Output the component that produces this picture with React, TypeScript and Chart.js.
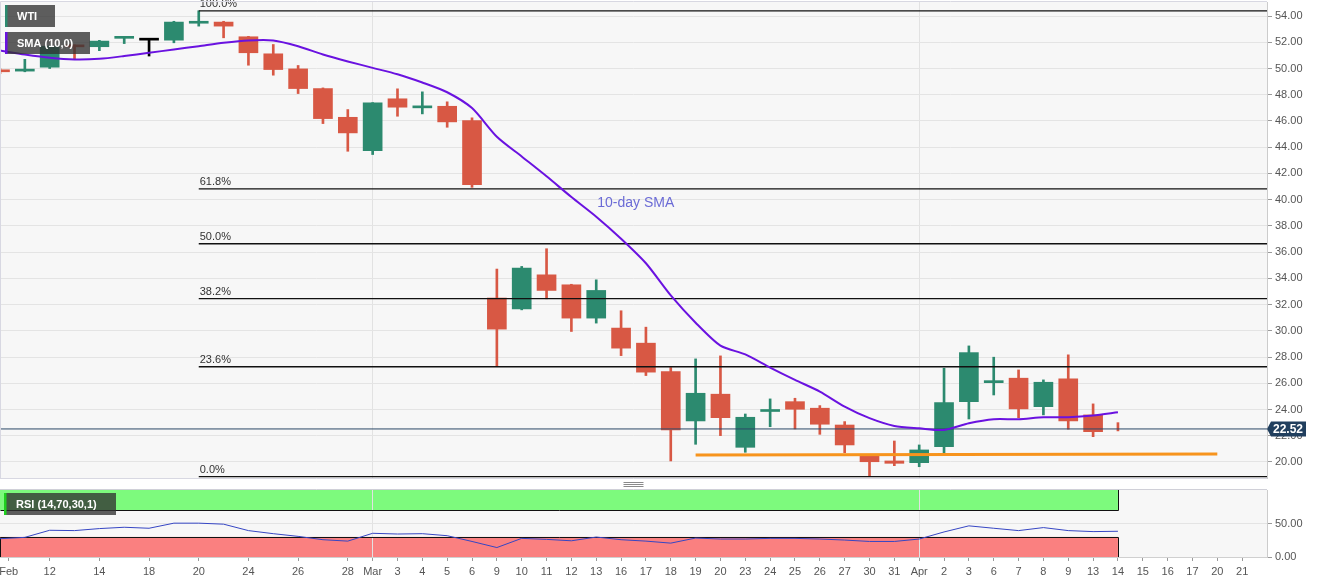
import React, { useEffect, useRef } from "react";
import { Chart, registerables } from "chart.js";

Chart.register(...registerables);

const FONT = "'Liberation Sans', Arial, Helvetica, sans-serif";

// Trading days shown on the axis (last five are future slots)
const tradingDays = [
  "Feb 10", "Feb 11", "Feb 12", "Feb 13", "Feb 14", "Feb 17", "Feb 18", "Feb 19", "Feb 20", "Feb 21",
  "Feb 24", "Feb 25", "Feb 26", "Feb 27", "Feb 28", "Mar 2", "Mar 3", "Mar 4", "Mar 5", "Mar 6",
  "Mar 9", "Mar 10", "Mar 11", "Mar 12", "Mar 13", "Mar 16", "Mar 17", "Mar 18", "Mar 19", "Mar 20",
  "Mar 23", "Mar 24", "Mar 25", "Mar 26", "Mar 27", "Mar 30", "Mar 31", "Apr 1", "Apr 2", "Apr 3",
  "Apr 6", "Apr 7", "Apr 8", "Apr 9", "Apr 13", "Apr 14", "Apr 15", "Apr 16", "Apr 17", "Apr 20", "Apr 21",
];

// Tick labels under the axis ("" = no label)
const axisLabels = [
  "Feb", "", "12", "", "14", "", "18", "", "20", "",
  "24", "", "26", "", "28", "Mar", "3", "4", "5", "6",
  "9", "10", "11", "12", "13", "16", "17", "18", "19", "20",
  "23", "24", "25", "26", "27", "30", "31", "Apr", "2", "3",
  "6", "7", "8", "9", "13", "14", "15", "16", "17", "20", "21",
];

const monthStarts = [15, 37];

// WTI daily OHLC (Feb 10 .. Apr 14)
const opens: (number | null)[] = [
  49.85, 49.8, 50.1, 51.75, 51.66, 52.3, 52.16, 52.16, 53.45, 53.54,
  52.42, 51.12, 49.97, 48.47, 46.28, 43.74, 47.69, 47.0, 47.12, 46.03,
  32.5, 31.68, 34.27, 33.51, 30.97, 30.21, 29.06, 26.89, 23.13, 25.17,
  21.12, 23.85, 24.6, 24.1, 22.82, 20.48, 20.08, 19.95, 21.17, 24.6,
  26.05, 26.39, 24.22, 26.34, 23.59, null,
];
const highs = [
  50.0, 50.7, 51.75, 51.8, 52.15, 52.4, 52.25, 53.6, 54.4, 53.6,
  52.45, 51.83, 50.23, 48.52, 46.87, 47.4, 48.45, 48.22, 47.46, 46.24,
  34.71, 34.91, 36.26, 33.55, 33.89, 31.53, 30.28, 27.2, 27.86, 28.09,
  23.66, 24.81, 24.86, 24.3, 23.08, 20.55, 21.6, 21.3, 27.15, 28.85,
  27.99, 27.02, 26.26, 28.17, 24.43, 23.0,
];
const lows = [
  49.6, 49.75, 50.0, 50.7, 51.36, 51.9, 50.95, 51.96, 53.23, 52.34,
  50.25, 49.49, 48.09, 45.8, 43.69, 43.44, 46.36, 46.54, 45.52, 40.94,
  27.27, 31.6, 32.44, 29.95, 30.59, 28.11, 26.59, 20.08, 21.35, 22.01,
  20.74, 22.69, 22.52, 22.11, 20.71, 18.93, 19.72, 19.64, 20.66, 23.28,
  25.11, 23.38, 23.59, 22.5, 21.93, 22.37,
];
const closes = [
  49.75, 49.9, 51.7, 51.65, 52.09, 52.36, 52.16, 53.54, 53.53, 53.23,
  51.2, 49.92, 48.47, 46.18, 45.09, 47.38, 47.05, 47.08, 45.93, 41.15,
  30.13, 34.79, 33.08, 30.97, 33.08, 28.68, 26.85, 22.44, 25.24, 23.38,
  23.41, 23.93, 24.02, 22.88, 21.3, 20.02, 19.9, 20.92, 24.53, 28.34,
  26.1, 24.05, 26.08, 23.13, 22.31, 22.52,
];

// 10-day simple moving average
const sma10 = [
  51.37, 51.07, 50.82, 50.69, 50.74, 50.95, 51.2, 51.45, 51.7, 51.96,
  52.14, 52.14, 51.7, 51.07, 50.54, 50.05, 49.56, 48.93, 48.19, 46.98,
  44.8, 43.29, 41.78, 40.2, 38.7, 37.02, 35.15, 32.7, 30.62, 28.87,
  28.2, 27.2, 26.26, 25.37, 24.22, 23.34, 22.75, 22.57, 22.44, 22.95,
  23.26, 23.26, 23.41, 23.41, 23.54, 23.79,
];

// RSI (14)
const rsi14 = [
  27.3, 29.3, 39.9, 39.4, 42.4, 44.4, 42.9, 50.5, 50.5, 49.0,
  39.4, 34.8, 30.8, 25.8, 23.7, 35.4, 34.3, 34.8, 31.8, 23.2,
  14.1, 27.8, 26.3, 24.2, 29.8, 25.8, 23.7, 20.7, 28.3, 26.8,
  26.8, 27.8, 27.8, 26.8, 25.3, 23.2, 23.2, 26.8, 37.4, 46.5,
  42.9, 39.4, 43.9, 39.4, 37.9, 38.4,
];
const rsiOverbought = 70;
const rsiOversold = 30;

// Fibonacci retracement levels (Feb 20 high -> Mar 30 low)
const fibNames = ["100.0%", "61.8%", "50.0%", "38.2%", "23.6%", "0.0%"];
const fibPrices = [54.4, 40.83, 36.64, 32.45, 27.26, 18.88];
const fibStart = 8;

const lastPrice = 22.52;
const supportX = [28, 49];
const supportY = [20.53, 20.61];

const GREEN = "#2c8a6f";
const RED = "#d85844";
const PURPLE = "#6a12e0";

const X_MAX = 51;

function candleColor(i: number) {
  const o = opens[i];
  if (o == null) return RED;
  if (closes[i] > o) return GREEN;
  if (closes[i] < o) return RED;
  return "#000000";
}

function box(ctx: CanvasRenderingContext2D, x: number, y: number, w: number, h: number, bar: string, text: string) {
  ctx.save();
  ctx.fillStyle = "rgba(50,50,50,0.78)";
  ctx.fillRect(x, y, w, h);
  ctx.fillStyle = bar;
  ctx.fillRect(x, y, 2.5, h);
  ctx.fillStyle = "#ffffff";
  ctx.font = `bold 11px ${FONT}`;
  ctx.textBaseline = "middle";
  ctx.textAlign = "left";
  ctx.fillText(text, x + 12, y + h / 2 + 0.5);
  ctx.restore();
}

export default function App() {
  const mainRef = useRef<HTMLCanvasElement>(null);
  const rsiRef = useRef<HTMLCanvasElement>(null);

  useEffect(() => {
    if (!mainRef.current || !rsiRef.current) return;
    const n = closes.length;
    const idx = Array.from({ length: n }, (_, i) => i);

    const mainPlugin = {
      id: "mainDeco",
      beforeDraw(chart: any) {
        const { ctx, chartArea: a } = chart;
        ctx.save();
        ctx.fillStyle = "#ffffff";
        ctx.fillRect(0, 0, chart.width, chart.height);
        ctx.fillStyle = "#f7f7f7";
        ctx.fillRect(a.left, a.top, a.right - a.left, a.bottom - a.top);
        ctx.restore();
      },
      afterDatasetsDraw(chart: any) {
        const { ctx } = chart;
        const xs = chart.scales.x;
        const ys = chart.scales.y;
        ctx.save();
        ctx.font = `11px ${FONT}`;
        ctx.fillStyle = "#333333";
        ctx.textAlign = "left";
        ctx.textBaseline = "bottom";
        fibPrices.forEach((p, k) => {
          ctx.fillText(fibNames[k], xs.getPixelForValue(fibStart) + 1, ys.getPixelForValue(p) - 1);
        });
        ctx.font = `14px ${FONT}`;
        ctx.fillStyle = "#6b6bd6";
        ctx.textBaseline = "middle";
        ctx.fillText("10-day SMA", xs.getPixelForValue(24) + 1, ys.getPixelForValue(39.7));
        ctx.restore();
      },
      afterDraw(chart: any) {
        const { ctx, chartArea: a } = chart;
        const ys = chart.scales.y;
        ctx.save();
        ctx.strokeStyle = "#d8d8e2";
        ctx.lineWidth = 1;
        ctx.beginPath();
        ctx.moveTo(a.left + 0.5, a.bottom);
        ctx.lineTo(a.left + 0.5, a.top - 0.5);
        ctx.lineTo(a.right, a.top - 0.5);
        ctx.moveTo(a.left, a.bottom + 0.5);
        ctx.lineTo(a.right, a.bottom + 0.5);
        ctx.stroke();
        // handle
        ctx.strokeStyle = "#8a8a8a";
        const cx = (a.left + a.right) / 2;
        [4.5, 6.5, 8.5].forEach((d) => {
          ctx.beginPath();
          ctx.moveTo(cx - 10, a.bottom + d);
          ctx.lineTo(cx + 10, a.bottom + d);
          ctx.stroke();
        });
        // price tag
        const py = ys.getPixelForValue(lastPrice);
        ctx.fillStyle = "#213f5e";
        ctx.beginPath();
        ctx.moveTo(a.right, py);
        ctx.lineTo(a.right + 4, py - 7.5);
        ctx.lineTo(a.right + 39, py - 7.5);
        ctx.lineTo(a.right + 39, py + 7.5);
        ctx.lineTo(a.right + 4, py + 7.5);
        ctx.closePath();
        ctx.fill();
        ctx.fillStyle = "#ffffff";
        ctx.font = `bold 12px ${FONT}`;
        ctx.textBaseline = "middle";
        ctx.textAlign = "left";
        ctx.fillText(lastPrice.toFixed(2), a.right + 6, py + 0.5);
        ctx.restore();
        box(ctx, 5, 5, 50, 22, GREEN, "WTI");
        box(ctx, 5, 32, 85, 22, PURPLE, "SMA (10,0)");
      },
    };

    const main = new Chart(mainRef.current, {
      type: "bar",
      data: {
        datasets: [
          {
            type: "line",
            label: "SMA",
            data: idx.map((i) => ({ x: i, y: sma10[i] })),
            borderColor: PURPLE,
            borderWidth: 2,
            pointRadius: 0,
            tension: 0.25,
            order: 0,
          } as any,
          ...fibPrices.map((p) => ({
            type: "line",
            label: "fib",
            data: [
              { x: fibStart, y: p },
              { x: X_MAX, y: p },
            ],
            borderColor: "#111111",
            borderWidth: 1.3,
            pointRadius: 0,
            order: 1,
          })),
          {
            type: "line",
            label: "last",
            data: [
              { x: -1, y: lastPrice },
              { x: X_MAX, y: lastPrice },
            ],
            borderColor: "#2b4866",
            borderWidth: 1,
            pointRadius: 0,
            order: 1,
          },
          {
            type: "line",
            label: "support",
            data: [
              { x: supportX[0], y: supportY[0] },
              { x: supportX[1], y: supportY[1] },
            ],
            borderColor: "#f7941d",
            borderWidth: 3,
            pointRadius: 0,
            order: 1,
          },
          {
            type: "bar",
            label: "body",
            data: idx.filter((i) => opens[i] != null).map((i) => ({ x: i, y: [opens[i] as number, closes[i]] })),
            backgroundColor: (c: any) => candleColor(c.raw ? c.raw.x : 0),
            barThickness: 19,
            minBarLength: 2,
            grouped: false,
            borderWidth: 0,
            order: 2,
          },
          {
            type: "bar",
            label: "wick",
            data: idx.map((i) => ({ x: i, y: [lows[i], highs[i]] })),
            backgroundColor: (c: any) => candleColor(c.raw ? c.raw.x : 0),
            barThickness: 2,
            grouped: false,
            borderWidth: 0,
            order: 3,
          },
        ] as any,
      },
      options: {
        animation: false,
        responsive: false,
        devicePixelRatio: 1,
        layout: { padding: { top: 2, bottom: 11, left: 0, right: 0 } },
        plugins: { legend: { display: false }, tooltip: { enabled: false } },
        scales: {
          x: {
            type: "linear",
            min: 0,
            max: X_MAX,
            offset: false,
            afterBuildTicks: (s: any) => {
              s.ticks = monthStarts.map((v) => ({ value: v }));
            },
            ticks: { display: false },
            grid: { drawTicks: false, color: "#e2e2e2", offset: false },
            border: { display: false },
            afterFit: (s: any) => {
              s.height = 0;
              s.paddingLeft = 0;
              s.paddingRight = 0;
            },
          },
          y: {
            type: "linear",
            position: "right",
            min: 18.78,
            max: 55.07,
            afterBuildTicks: (s: any) => {
              const t = [];
              for (let v = 20; v <= 54; v += 2) t.push({ value: v });
              s.ticks = t;
            },
            ticks: {
              callback: (v: any) => Number(v).toFixed(2),
              color: "#555555",
              font: { family: FONT, size: 11 },
              padding: 3,
            },
            grid: { color: "#e4e4e4", tickLength: 5, tickColor: "#9a9a9a" },
            border: { display: true, color: "#cccccc" },
            afterFit: (s: any) => {
              s.width = 64;
              s.paddingTop = 0;
              s.paddingBottom = 0;
            },
          },
        },
      } as any,
      plugins: [mainPlugin],
    });

    const rsiPlugin = {
      id: "rsiDeco",
      beforeDraw(chart: any) {
        const { ctx, chartArea: a } = chart;
        const xs = chart.scales.x;
        const ys = chart.scales.y;
        ctx.save();
        ctx.fillStyle = "#ffffff";
        ctx.fillRect(0, 0, chart.width, chart.height);
        ctx.fillStyle = "#f7f7f7";
        ctx.fillRect(a.left, a.top, a.right - a.left, a.bottom - a.top);
        const x0 = a.left;
        const x1 = xs.getPixelForValue(n - 1);
        ctx.fillStyle = "rgb(125,250,125)";
        ctx.fillRect(x0, ys.getPixelForValue(100), x1 - x0, ys.getPixelForValue(rsiOverbought) - ys.getPixelForValue(100));
        ctx.fillStyle = "rgb(250,128,128)";
        ctx.fillRect(x0, ys.getPixelForValue(rsiOversold), x1 - x0, ys.getPixelForValue(0) - ys.getPixelForValue(rsiOversold));
        ctx.restore();
      },
      beforeDatasetsDraw(chart: any) {
        const { ctx, chartArea: a } = chart;
        const xs = chart.scales.x;
        const ys = chart.scales.y;
        const x0 = a.left + 0.5;
        const x1 = Math.round(xs.getPixelForValue(n - 1)) + 0.5;
        const yT = ys.getPixelForValue(100);
        const yOB = Math.round(ys.getPixelForValue(rsiOverbought)) + 0.5;
        const yOS = Math.round(ys.getPixelForValue(rsiOversold)) + 0.5;
        const yB = ys.getPixelForValue(0);
        ctx.save();
        ctx.strokeStyle = "#111111";
        ctx.lineWidth = 1;
        ctx.beginPath();
        ctx.moveTo(x0, yOB);
        ctx.lineTo(x1, yOB);
        ctx.moveTo(x1, yT);
        ctx.lineTo(x1, yOB);
        ctx.moveTo(x0, yOS);
        ctx.lineTo(x1, yOS);
        ctx.moveTo(x1, yOS);
        ctx.lineTo(x1, yB);
        ctx.moveTo(x0, yOS);
        ctx.lineTo(x0, yB);
        ctx.stroke();
        ctx.restore();
      },
      afterDraw(chart: any) {
        const { ctx, chartArea: a } = chart;
        ctx.save();
        ctx.strokeStyle = "#d0d0d8";
        ctx.beginPath();
        ctx.moveTo(a.left, a.top - 0.5);
        ctx.lineTo(a.right, a.top - 0.5);
        ctx.stroke();
        ctx.restore();
        box(ctx, 4, 4, 112, 22, "#1fd11f", "RSI (14,70,30,1)");
      },
    };

    const tickIdx = axisLabels.map((l, i) => (l ? i : -1)).filter((i) => i >= 0);

    const rsi = new Chart(rsiRef.current, {
      type: "line",
      data: {
        datasets: [
          {
            label: "RSI",
            data: idx.map((i) => ({ x: i, y: rsi14[i] })),
            borderColor: "#3646c4",
            borderWidth: 1,
            pointRadius: 0,
            tension: 0,
          },
        ],
      },
      options: {
        animation: false,
        responsive: false,
        devicePixelRatio: 1,
        layout: { padding: { top: 1, bottom: 0, left: 0, right: 0 } },
        plugins: { legend: { display: false }, tooltip: { enabled: false } },
        scales: {
          x: {
            type: "linear",
            min: 0,
            max: X_MAX,
            offset: false,
            afterBuildTicks: (s: any) => {
              s.ticks = tickIdx.map((i) => ({ value: i === 0 ? 0.35 : i }));
            },
            ticks: {
              autoSkip: false,
              maxRotation: 0,
              minRotation: 0,
              callback: (v: any) => axisLabels[Math.round(Number(v))],
              color: "#555555",
              font: { family: FONT, size: 11 },
              padding: 4,
            },
            grid: {
              color: (c: any) =>
                c.tick && monthStarts.includes(Math.round(c.tick.value)) ? "#e2e2e2" : "rgba(0,0,0,0)",
              tickColor: "#9a9a9a",
              tickLength: 4,
              offset: false,
            },
            border: { display: true, color: "#d0d0d0" },
            afterFit: (s: any) => {
              s.height = 26;
              s.paddingLeft = 0;
              s.paddingRight = 0;
            },
          },
          y: {
            type: "linear",
            position: "right",
            min: 0,
            max: 100,
            afterBuildTicks: (s: any) => {
              s.ticks = [{ value: 0 }, { value: 50 }];
            },
            ticks: {
              callback: (v: any) => Number(v).toFixed(2),
              color: "#555555",
              font: { family: FONT, size: 11 },
              padding: 3,
            },
            grid: {
              color: (c: any) => (c.tick && c.tick.value === 50 ? "#e4e4e4" : "rgba(0,0,0,0)"),
              tickLength: 5,
              tickColor: "#9a9a9a",
            },
            border: { display: true, color: "#cccccc" },
            afterFit: (s: any) => {
              s.width = 64;
              s.paddingTop = 0;
              s.paddingBottom = 0;
            },
          },
        },
      } as any,
      plugins: [rsiPlugin],
    });

    return () => {
      main.destroy();
      rsi.destroy();
    };
  }, []);

  return (
    <div style={{ position: "fixed", left: 0, top: 0, width: 1331, height: 583, background: "#ffffff" }}>
      <canvas
        ref={mainRef}
        width={1331}
        height={489}
        style={{ position: "absolute", left: 0, top: 0, width: 1331, height: 489 }}
      />
      <canvas
        ref={rsiRef}
        width={1331}
        height={94}
        style={{ position: "absolute", left: 0, top: 489, width: 1331, height: 94 }}
      />
    </div>
  );
}
